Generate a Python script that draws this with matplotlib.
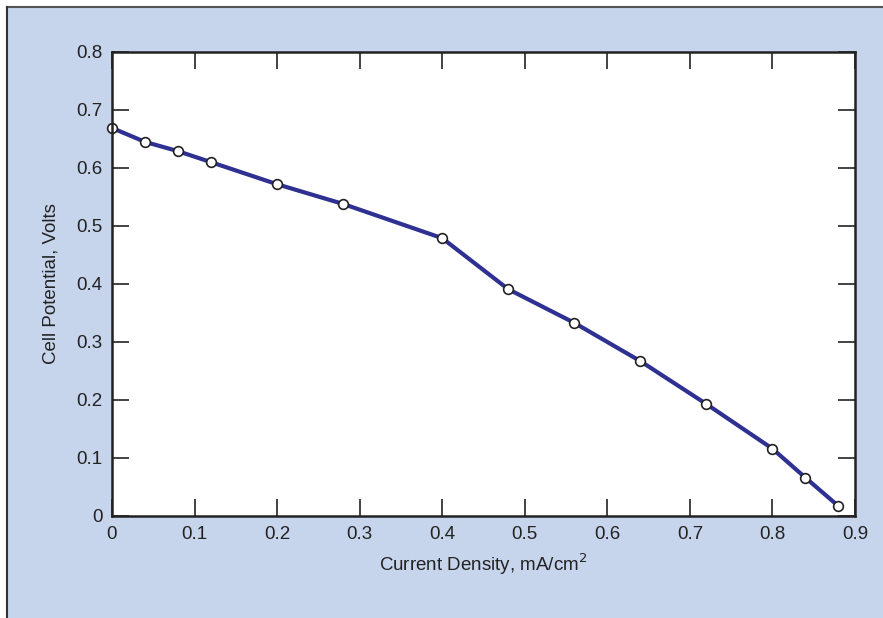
import matplotlib.pyplot as plt
from matplotlib.patches import Rectangle

# Polarization curve data
current_density = [0, 0.04, 0.08, 0.12, 0.2, 0.28, 0.4, 0.48, 0.56, 0.64, 0.72, 0.8, 0.84, 0.88]
cell_potential = [0.669, 0.645, 0.629, 0.610, 0.572, 0.538, 0.479, 0.391, 0.333, 0.267, 0.193, 0.116, 0.066, 0.017]

x_ticks = [0, 0.1, 0.2, 0.3, 0.4, 0.5, 0.6, 0.7, 0.8, 0.9]
x_tick_labels = ["0", "0.1", "0.2", "0.3", "0.4", "0.5", "0.6", "0.7", "0.8", "0.9"]
y_ticks = [0, 0.1, 0.2, 0.3, 0.4, 0.5, 0.6, 0.7, 0.8]
y_tick_labels = ["0", "0.1", "0.2", "0.3", "0.4", "0.5", "0.6", "0.7", "0.8"]

plt.rcParams['font.family'] = ['Liberation Sans', 'DejaVu Sans']

W, H = 883, 618
fig = plt.figure(figsize=(W / 100, H / 100), dpi=100, facecolor="white")

# light blue panel with gray frame lines on top and left
fig.patches.append(Rectangle((7 / W, 0), 1, 1 - 8 / H, transform=fig.transFigure,
                             facecolor="#c6d4ec", edgecolor="none", zorder=-10))
fig.add_artist(plt.Line2D([6.5 / W, 1], [1 - 7 / H, 1 - 7 / H], transform=fig.transFigure,
                          color="#555555", lw=1.5, zorder=-5))
fig.add_artist(plt.Line2D([6.5 / W, 6.5 / W], [0, 1 - 7 / H], transform=fig.transFigure,
                          color="#333333", lw=1.5, zorder=-5))

ax = fig.add_axes([112 / W, (H - 516) / H, 743 / W, 464 / H])
ax.set_facecolor("white")

ax.plot(current_density, cell_potential, color="#2e3192", lw=3, zorder=2,
        marker="o", markersize=7, markerfacecolor="white", markeredgecolor="#222222",
        markeredgewidth=1.2, clip_on=False)

ax.set_xlim(0, 0.9)
ax.set_ylim(0, 0.8)
ax.set_xticks(x_ticks)
ax.set_xticklabels(x_tick_labels)
ax.set_yticks(y_ticks)
ax.set_yticklabels(y_tick_labels)

ax.tick_params(direction="in", length=12, width=1.2, top=True, right=True,
               labelsize=13.5, colors="#222222", pad=7)
for s in ax.spines.values():
    s.set_linewidth(1.8)
    s.set_color("#222222")

ax.set_xlabel("Current Density, mA/cm$^2$", fontsize=13.5, color="#222222", labelpad=6)
ax.set_ylabel("Cell Potential, Volts", fontsize=13.5, color="#222222", labelpad=12)

plt.savefig("out.png", dpi=100, facecolor=fig.get_facecolor())
